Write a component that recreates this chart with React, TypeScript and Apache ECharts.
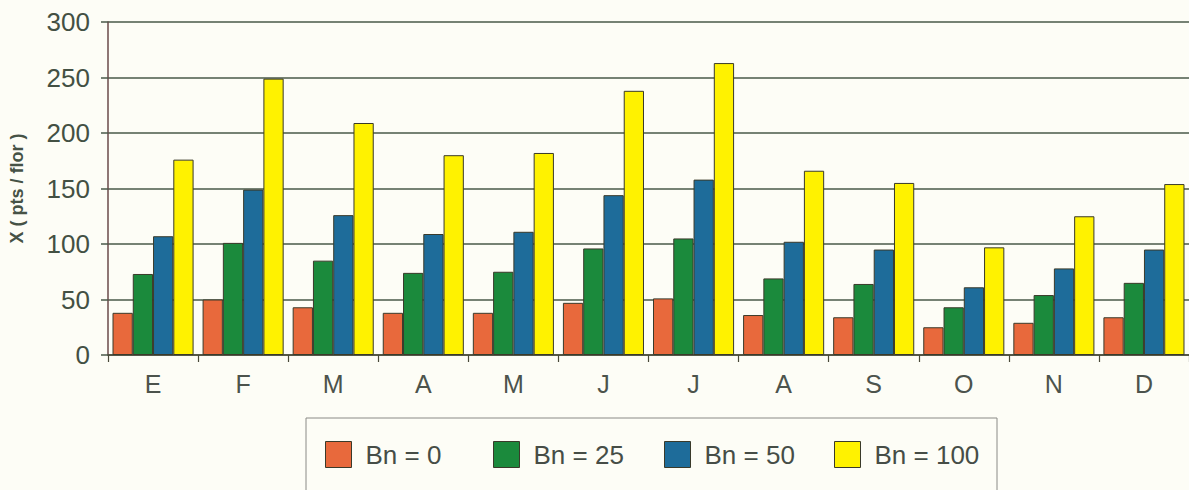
import React, { useEffect, useRef } from "react";
import * as echarts from "echarts";

// Monthly values per Bn level
const months = ["E", "F", "M", "A", "M", "J", "J", "A", "S", "O", "N", "D"];
const bn0 = [38, 50, 43, 38, 38, 47, 51, 36, 34, 25, 29, 34];
const bn25 = [73, 101, 85, 74, 75, 96, 105, 69, 64, 43, 54, 65];
const bn50 = [107, 149, 126, 109, 111, 144, 158, 102, 95, 61, 78, 95];
const bn100 = [176, 249, 209, 180, 182, 238, 263, 166, 155, 97, 125, 154];

const seriesNames = ["Bn = 0", "Bn = 25", "Bn = 50", "Bn = 100"];
const seriesColors = ["#e8693c", "#1b8a3c", "#1e6c9a", "#fff200"];
const seriesData = [bn0, bn25, bn50, bn100];

const legendLeft = [325, 493, 664, 834];

export default function App() {
  const ref = useRef<HTMLDivElement>(null);

  useEffect(() => {
    if (!ref.current) return;
    const chart = echarts.init(ref.current, null, { renderer: "svg" });
    const font = "'Liberation Sans', Arial, sans-serif";
    const gridColor = "#485848";

    chart.setOption({
      animation: false,
      backgroundColor: "#fdfdf6",
      grid: { left: 104, top: 22, width: 1092, height: 333, containLabel: false },
      legend: seriesNames.map((name, i) => ({
        data: [name],
        left: legendLeft[i],
        top: 441,
        padding: 0,
        itemWidth: 26,
        itemHeight: 26,
        icon: "rect",
        itemStyle: { borderColor: "#3a3a2a", borderWidth: 1 },
        textStyle: {
          fontFamily: font,
          fontSize: 26,
          color: "#464d46",
          padding: [0, 0, 0, 9],
        },
        selectedMode: false,
      })),
      graphic: [
        {
          type: "rect",
          shape: { x: 306, y: 418, width: 691, height: 90 },
          style: { fill: "none", stroke: "#8a8a86", lineWidth: 1 },
          z: -1,
        },
      ],
      xAxis: {
        type: "category",
        data: months,
        axisLine: { show: true, lineStyle: { color: "#4a4a3a", width: 1.5 } },
        axisTick: { show: true, length: 7, lineStyle: { color: "#4a4a3a", width: 1.2 } },
        axisLabel: {
          margin: 16,
          fontFamily: font,
          fontSize: 25,
          color: "#4c534c",
        },
        splitLine: { show: false },
      },
      yAxis: {
        type: "value",
        min: 0,
        max: 300,
        interval: 50,
        name: "X ( pts / flor )",
        nameLocation: "middle",
        nameRotate: 90,
        nameGap: 82,
        nameTextStyle: {
          fontFamily: font,
          fontSize: 18,
          fontWeight: "bold",
          color: "#465246",
        },
        axisLine: { show: true, lineStyle: { color: "#6a4a4a", width: 1.5 } },
        axisTick: { show: true, length: 7, lineStyle: { color: gridColor, width: 1.5 } },
        axisLabel: {
          margin: 18,
          fontFamily: font,
          fontSize: 26,
          color: "#435043",
        },
        splitLine: { show: true, lineStyle: { color: gridColor, width: 1.6 } },
      },
      series: seriesNames.map((name, i) => ({
        name,
        type: "bar",
        data: seriesData[i],
        barGap: "0%",
        barCategoryGap: "10%",
        itemStyle: {
          color: seriesColors[i],
          borderColor: "#3a3a2a",
          borderWidth: 1,
        },
      })),
    });

    return () => chart.dispose();
  }, []);

  return (
    <div
      ref={ref}
      style={{ position: "absolute", left: 0, top: 0, width: 1189, height: 490 }}
    />
  );
}
